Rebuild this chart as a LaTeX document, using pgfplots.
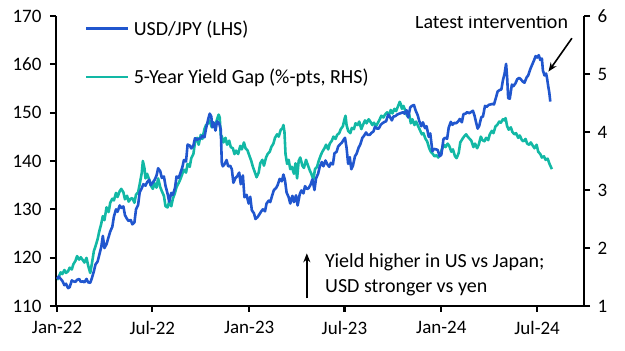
\documentclass[border=0pt]{standalone}
\usepackage{pgfplots}
\usepackage{pgfplotstable}
\pgfplotsset{compat=1.18}
\usetikzlibrary{arrows.meta}
\usepackage{fontspec}
\setmainfont{Carlito}
\definecolor{usdblue}{RGB}{32,86,206}
\definecolor{gapteal}{RGB}{18,184,165}

% day since 1 Jan 2022, USD/JPY
\pgfplotstableread{
d v
0 115.6
3 116.1
7 115.6
10 115.2
14 114.3
17 114.6
21 113.7
24 113.9
28 115.3
31 115.1
35 115.0
38 115.4
42 115.6
45 115.0
49 115.1
52 114.9
56 115.6
59 114.9
63 114.8
66 115.7
70 117.2
73 118.6
77 119.2
80 120.5
84 122.2
87 124.5
90 122.0
94 122.8
98 124.3
101 125.4
105 126.4
108 128.5
112 130.0
115 129.5
119 130.8
122 130.3
126 130.6
129 128.8
133 128.0
136 127.6
140 127.8
143 126.9
147 127.3
150 130.0
154 130.9
157 133.5
161 134.4
164 135.2
168 134.9
171 135.6
175 136.1
178 135.0
182 135.6
185 136.0
189 137.0
192 138.5
196 137.9
199 136.5
203 136.8
206 134.9
210 133.2
213 131.6
217 133.4
220 133.0
224 134.4
227 136.8
231 136.5
234 137.4
238 138.7
241 140.2
245 139.9
248 143.4
252 143.2
255 142.6
259 143.2
262 144.7
266 144.4
269 144.6
273 144.7
276 145.2
280 144.9
283 146.7
287 148.6
290 149.8
293 149.2
295 147.0
297 148.0
301 146.3
304 148.2
308 147.8
311 146.5
313 139.5
315 138.9
318 139.3
322 140.2
325 138.9
329 139.0
332 138.3
335 135.5
339 136.5
342 136.8
346 137.6
349 135.2
353 137.0
356 132.5
360 133.0
364 131.2
367 132.6
370 129.8
374 129.2
377 128.0
381 128.4
384 128.9
388 129.6
391 130.0
395 129.6
398 131.2
402 131.8
405 131.5
409 133.0
412 134.0
416 134.4
419 135.0
423 136.3
427 135.8
430 137.2
433 136.0
436 133.5
440 132.5
443 131.2
447 132.8
450 131.5
454 132.9
457 130.8
461 133.1
464 133.9
468 133.3
471 134.8
475 134.2
478 134.4
482 135.2
485 136.2
489 134.0
492 136.4
496 137.4
499 138.8
503 139.8
506 138.9
510 140.1
513 139.4
517 138.8
520 139.6
524 139.3
527 141.6
531 141.9
534 143.0
538 143.5
541 143.8
545 144.5
547 144.8
550 142.7
553 139.4
556 140.8
559 138.3
562 139.0
566 141.0
569 141.5
573 142.8
576 143.4
580 144.8
583 145.2
587 145.9
590 145.4
594 145.4
597 145.8
601 146.1
604 147.1
608 146.7
611 146.7
615 147.5
618 147.8
622 148.1
625 148.2
629 149.6
632 149.2
636 148.4
639 149.2
643 149.3
646 149.6
650 149.8
653 149.9
657 150.1
660 149.8
664 150.5
667 149.0
671 151.1
674 151.4
678 151.6
681 150.5
685 149.5
688 148.3
692 147.2
695 148.0
699 146.8
702 147.2
706 145.0
709 145.7
713 142.0
716 142.5
720 142.4
723 142.3
727 141.0
730 141.3
734 144.5
737 144.8
741 144.6
744 146.9
748 148.1
751 147.5
755 147.9
758 147.8
762 148.2
765 148.7
769 148.0
772 149.7
776 149.8
779 150.1
783 149.9
786 150.1
790 150.4
793 149.4
796 148.0
799 146.7
802 147.3
806 149.1
809 149.2
813 151.4
816 151.2
820 151.6
823 151.7
827 151.8
830 151.7
834 153.2
837 154.4
841 154.7
844 154.8
847 156.7
850 158.0
853 160.1
855 157.3
857 153.0
860 152.9
864 155.8
867 155.5
871 156.1
874 156.9
878 157.2
881 156.9
885 156.4
888 156.2
892 157.3
895 157.7
899 159.0
902 159.8
906 160.8
909 161.7
912 161.4
915 161.9
918 160.9
921 161.2
923 158.7
926 157.7
929 158.1
931 157.0
933 155.5
935 154.2
937 152.3
}\usdjpy

% day since 1 Jan 2022, 5-year yield gap (%-pts)
\pgfplotstableread{
d v
0 1.45
3 1.50
7 1.58
10 1.55
14 1.62
17 1.57
21 1.60
24 1.66
28 1.63
31 1.72
35 1.78
38 1.86
42 1.80
45 1.84
49 1.79
52 1.75
56 1.83
59 1.70
63 1.57
66 1.72
70 1.95
73 2.03
77 2.15
80 2.28
84 2.42
87 2.55
90 2.48
94 2.70
98 2.62
101 2.78
105 2.85
108 2.82
112 2.95
115 2.88
119 2.98
122 3.02
126 2.96
129 2.84
133 2.90
136 2.80
140 2.85
143 2.86
147 2.78
150 2.92
154 2.96
157 3.10
161 3.30
163 3.50
166 3.38
168 3.20
171 3.28
175 3.18
178 3.08
182 3.02
185 3.12
189 3.04
192 3.20
196 3.05
199 2.98
203 2.90
206 2.72
210 2.70
213 2.80
217 2.72
220 2.85
224 2.95
227 3.05
231 3.12
234 3.18
238 3.28
241 3.35
245 3.30
248 3.45
252 3.40
255 3.55
259 3.62
262 3.82
266 3.90
269 3.78
273 3.95
276 3.88
280 4.05
283 4.12
287 4.15
290 4.20
294 4.08
297 4.16
301 4.12
304 4.22
307 4.30
309 4.25
311 3.95
313 3.92
316 3.82
320 3.90
323 3.78
327 3.85
330 3.74
334 3.72
337 3.62
340 3.68
344 3.62
348 3.76
351 3.70
355 3.82
358 3.72
362 3.68
365 3.60
369 3.50
372 3.40
376 3.30
379 3.22
383 3.30
386 3.46
390 3.52
393 3.42
397 3.56
400 3.62
404 3.66
407 3.74
411 3.80
414 3.90
418 3.96
421 3.92
425 4.04
428 4.06
430 4.12
432 4.00
434 3.62
437 3.45
440 3.52
443 3.36
446 3.40
450 3.28
453 3.46
456 3.20
459 3.50
462 3.56
466 3.42
469 3.38
473 3.52
476 3.44
480 3.34
483 3.28
487 3.18
490 3.36
494 3.40
497 3.50
501 3.60
504 3.66
508 3.72
511 3.78
515 3.70
518 3.80
522 3.85
525 3.92
529 3.88
532 3.95
536 3.98
539 4.05
543 4.10
546 4.22
548 4.28
550 4.12
553 4.02
557 3.98
560 4.07
564 4.05
567 4.15
571 4.12
574 4.18
578 4.05
581 4.12
585 4.20
588 4.15
592 4.22
595 4.18
599 4.12
602 4.16
606 4.10
609 4.15
613 4.22
616 4.28
620 4.25
623 4.30
627 4.34
630 4.28
634 4.38
637 4.32
641 4.40
644 4.36
648 4.45
651 4.52
653 4.48
655 4.40
658 4.45
662 4.36
665 4.28
669 4.30
672 4.15
675 4.22
679 4.12
682 4.18
686 4.10
689 4.04
693 3.96
696 3.98
700 3.88
703 3.84
707 3.72
710 3.66
714 3.62
717 3.58
721 3.60
724 3.56
728 3.62
731 3.70
735 3.78
738 3.74
742 3.80
745 3.76
749 3.66
752 3.70
756 3.58
759 3.55
763 3.64
766 3.82
770 3.88
773 3.92
777 3.96
780 3.92
784 3.88
787 3.85
791 3.74
794 3.80
798 3.72
801 3.78
805 3.92
808 3.86
812 3.84
815 3.90
819 3.86
822 3.96
826 4.02
829 3.98
833 4.10
836 4.12
840 4.18
843 4.16
847 4.22
850 4.20
852 4.24
855 4.10
858 4.04
862 4.08
865 4.00
869 3.96
872 3.98
876 3.90
879 3.94
883 3.86
886 3.84
890 3.88
893 3.80
897 3.78
900 3.82
904 3.76
907 3.72
911 3.78
914 3.66
918 3.62
921 3.56
925 3.58
928 3.52
932 3.54
935 3.46
938 3.40
940 3.36
}\yieldgap

\begin{document}
\begin{tikzpicture}
\path[use as bounding box] (-56pt,-45pt) rectangle (569pt,306pt);
\pgfplotsset{
  common/.style={
    width=528pt, height=290pt, scale only axis,
    xmin=-2, xmax=1001,
    ticklabel style={font=\fontsize{19}{22}\selectfont},
    /pgf/number format/assume math mode=true,
    tick style={black, line width=2.2pt},
    major tick length=6pt,
    tick align=outside,
    axis line style={line width=2.8pt, -},
  }
}
% right-hand axis: yield gap
\begin{axis}[common,
  axis x line=none, axis y line*=right,
  ymin=1, ymax=6, ytick={1,2,3,4,5,6},
  yticklabel style={xshift=4pt},
]
\addplot[gapteal, line width=2.6pt, line join=round] table[x=d, y=v] {\yieldgap};
\end{axis}
% left-hand axis: USD/JPY
\begin{axis}[common,
  axis x line*=bottom, axis y line*=left,
  ymin=110, ymax=170, ytick={110,120,...,170},
  yticklabel style={xshift=-5pt},
  xtick={0,181,365,546,730,912},
  xticklabels={Jan-22,Jul-22,Jan-23,Jul-23,Jan-24,Jul-24},
  xticklabel style={yshift=-6pt},
  legend style={draw=none, fill=none, inner sep=0pt,
    at={(axis cs:53,162.4)}, anchor=west,
    font=\fontsize{20}{24}\selectfont,
    row sep=30pt, column sep=3pt,
    nodes={inner sep=1pt}},
  legend cell align=left,
  legend image code/.code={\draw[#1] (0pt,0pt) -- (42pt,0pt);},
]
\addplot[usdblue, line width=2.6pt, line join=round] table[x=d, y=v] {\usdjpy};
\addlegendentry{USD/JPY (LHS)}
\addlegendimage{gapteal, line width=2.6pt}
\addlegendentry{5-Year Yield Gap (\%-pts, RHS)}

\draw[-{Stealth[length=9pt,width=7pt]}, line width=1.6pt] (axis cs:978,165.4) -- (axis cs:933.5,158.5);
\node[anchor=east, inner sep=0pt, font=\fontsize{20}{24}\selectfont] at (axis cs:971,168.8) {Latest intervention};
\draw[-{Stealth[length=9pt,width=7pt]}, line width=1.6pt] (axis cs:474.5,111.6) -- (axis cs:474.5,120.9);
\node[anchor=west, inner sep=0pt, align=left, font=\fontsize{20}{25}\selectfont] at (axis cs:509,116.5) {Yield higher in US vs Japan;\\USD stronger vs yen};
\end{axis}
\end{tikzpicture}
\end{document}
